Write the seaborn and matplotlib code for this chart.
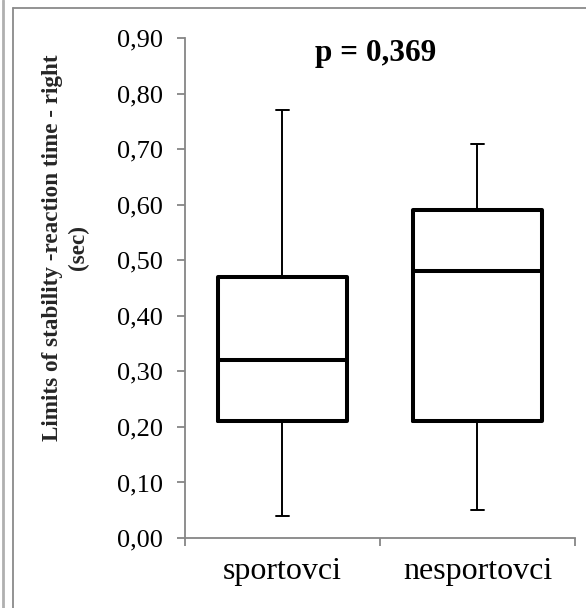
import numpy as np
import pandas as pd
import seaborn as sns
import matplotlib.pyplot as plt
from matplotlib.lines import Line2D
from matplotlib.ticker import FixedLocator, FuncFormatter

# Five-number summaries (min, Q1, median, Q3, max) per group, in seconds
groups = ["sportovci", "nesportovci"]
sportovci = [0.04, 0.21, 0.32, 0.47, 0.77]
nesportovci = [0.05, 0.21, 0.48, 0.59, 0.71]
p_label = "p = 0,369"
y_label = "Limits of stability -reaction time - right\n(sec)"
y_ticks = [0.0, 0.1, 0.2, 0.3, 0.4, 0.5, 0.6, 0.7, 0.8, 0.9]

df = pd.DataFrame({
    "group": [groups[0]] * len(sportovci) + [groups[1]] * len(nesportovci),
    "value": sportovci + nesportovci,
})

sns.set_theme(style="white")
plt.rcParams["font.family"] = ["Liberation Serif", "DejaVu Serif"]

fig = plt.figure(figsize=(5.86, 6.08), dpi=100)
ax = fig.add_axes([0.3157, 0.1151, 0.9812 - 0.3157, 0.9375 - 0.1151])

sns.boxplot(
    data=df, x="group", y="value", order=groups, ax=ax,
    whis=(0, 100), width=0.66, fill=False, color="black",
    linewidth=2.9, showfliers=False,
    whiskerprops=dict(linewidth=1.4, color="black"),
    capprops=dict(linewidth=1.4, color="black"),
    capwidths=0.065,
)

ax.set_xlim(-0.5, 1.5)
ax.set_ylim(0, 0.9)
ax.set_xlabel("")
ax.set_ylabel(y_label, fontsize=16.7, fontweight="bold", linespacing=1.33)
ax.yaxis.set_label_coords(-0.246, 0.581)

ax.yaxis.set_major_locator(FixedLocator(y_ticks))
ax.yaxis.set_major_formatter(FuncFormatter(lambda v, _: f"{v:.2f}".replace(".", ",")))

# category labels centred, tick marks between categories
ax.set_xticks([-0.5, 0.5, 1.5])
ax.set_xticklabels([])
ax.set_xticks([0, 1], minor=True)
ax.set_xticklabels(groups, minor=True)

axis_gray = "#868686"
for side in ("top", "right"):
    ax.spines[side].set_visible(False)
for side in ("left", "bottom"):
    ax.spines[side].set_color(axis_gray)
    ax.spines[side].set_linewidth(1.3)

ax.tick_params(axis="y", which="major", direction="out", length=6, width=1.3,
               color=axis_gray, labelsize=19, labelcolor="black", pad=10, left=True)
ax.tick_params(axis="x", which="major", direction="out", length=6, width=1.3,
               color=axis_gray, bottom=True)
ax.tick_params(axis="x", which="minor", length=0, labelsize=23,
               labelcolor="black", pad=14)

ax.text(0.48, 0.872, p_label, ha="center", va="center", fontsize=22.5,
        fontweight="bold", color="black")

# surrounding frame lines
frame_kw = dict(transform=fig.transFigure, clip_on=False)
fig.add_artist(Line2D([3 / 586, 3 / 586], [0, 1], color="#b0b0b0", lw=2.0, **frame_kw))
fig.add_artist(Line2D([12.5 / 586, 12.5 / 586], [0, 1 - 7.5 / 608], color="#8a8a8a", lw=1.3, **frame_kw))
fig.add_artist(Line2D([12.5 / 586, 1], [1 - 7.5 / 608, 1 - 7.5 / 608], color="#8a8a8a", lw=1.3, **frame_kw))

fig.savefig("out.png", dpi=100)
